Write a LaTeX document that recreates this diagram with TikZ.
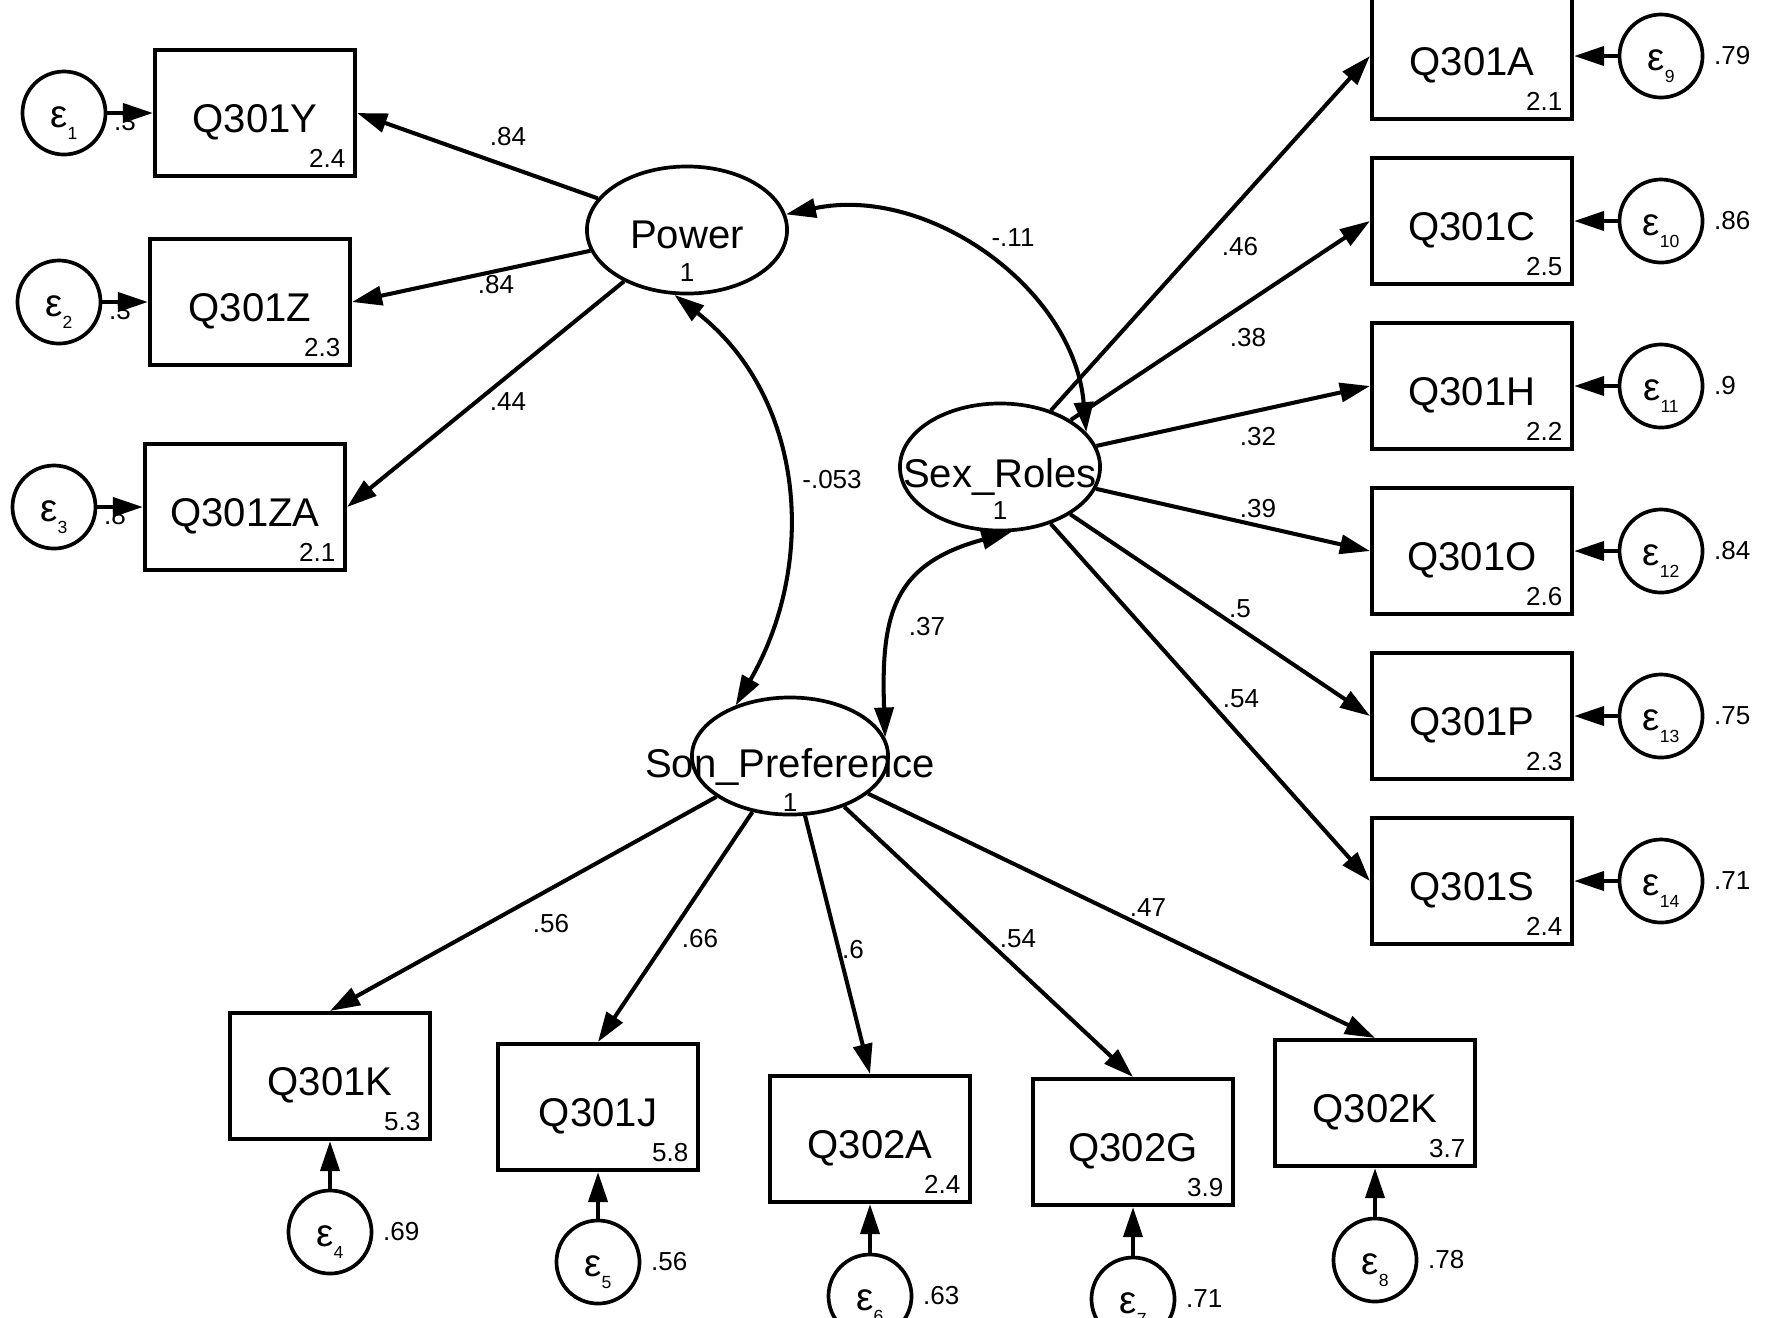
\documentclass[tikz,border=0pt]{standalone}
\usepackage{fontspec}
\setmainfont{Liberation Sans}
\usetikzlibrary{arrows.meta,shapes.geometric}
\newcommand{\errlab}[1]{ε\raisebox{-0.12cm}{\fontsize{5}{5}\selectfont #1}}

\tikzset{
	obs/.style={draw, line width=1.15pt, minimum width=2cm, minimum height=1.26cm, inner sep=0pt,
		text height=0.42cm, text depth=0.03cm, font=\fontsize{11.4}{12}\selectfont},
	lat/.style={draw, ellipse, line width=1.05pt, minimum width=2cm, minimum height=1.27cm, inner sep=0pt},
	latname/.style={inner sep=0pt, text height=8.2pt, text depth=0pt, font=\fontsize{11.4}{12}\selectfont},
	err/.style={draw, circle, line width=1.05pt, minimum size=0.83cm, inner sep=0pt,
		text height=0.41cm, text depth=0.12cm, font=\fontsize{11}{11}\selectfont},
	num/.style={inner sep=0pt, font=\fontsize{7.4}{8}\selectfont},
	load/.style={-{Triangle[length=0.3cm,width=0.19cm]}, line width=1.15pt},
	cov/.style={{Triangle[length=0.3cm,width=0.19cm]}-{Triangle[length=0.3cm,width=0.19cm]}, line width=1.15pt}
}

\begin{document}
\begin{tikzpicture}[x=0.01cm, y=0.01cm]
			%%%%% START %%%%%
			\useasboundingbox (0,0) rectangle (1767,-1317);
			\clip (0,0) rectangle (1767,-1317);
			
			% latent variables
			\node[lat] (power) at (687,-230) {};
			\node[latname] (power-n) at ([yshift=-0.04cm]power.center) {Power};
			\node[num] (power-v) at ([yshift=-0.43cm]power.center) {1};
			
			\node[lat] (sexroles) at (1000,-467) {};
			\node[latname] (sexroles-n) at ([yshift=-0.06cm]sexroles.center) {Sex\_Roles};
			\node[num] (sexroles-v) at ([yshift=-0.44cm]sexroles.center) {1};
			
			\node[lat, minimum width=1.96cm, minimum height=1.17cm] (sonpref) at (790,-756) {};
			\node[latname] (sonpref-n) at ([yshift=-0.07cm]sonpref.center) {Son\_Preference};
			\node[num] (sonpref-v) at ([yshift=-0.46cm]sonpref.center) {1};
			
			% covariances
			\draw[cov] (power.9) to[out=12, in=95] (sexroles.22);
			\node[num] (c1) at (1013,-238) {-.11};
			\draw[cov] (power.-101) to[out=-38, in=60, looseness=1.02] (sonpref.137);
			\node[num] (c2) at (832,-480) {-.053};
			\draw[cov] (sexroles.-80) to[out=195, in=92, looseness=1.3] (sonpref.11);
			\node[num] (c3) at (927,-627) {.37};
			
			% Power indicators
			\node[obs] (q301y) at (255,-113) {Q301Y};
			\node[num, anchor=south east] (q301y-v) at ([shift={(-11,10)}]q301y.south east) {2.4};
			\node[obs] (q301z) at (250,-302) {Q301Z};
			\node[num, anchor=south east] (q301z-v) at ([shift={(-11,10)}]q301z.south east) {2.3};
			\node[obs] (q301za) at (245,-507) {Q301ZA};
			\node[num, anchor=south east] (q301za-v) at ([shift={(-11,10)}]q301za.south east) {2.1};
			
			\draw[load] (power) -- (q301y.east);
			\node[num] (l1) at (508,-137) {.84};
			\draw[load] (power) -- (q301z.east);
			\node[num] (l2) at (496,-285) {.84};
			\draw[load] (power) -- (q301za.east);
			\node[num] (l3) at (508,-402) {.44};
			
			\node[err] (e1) at (64,-113) {\errlab{1}};
			\node[num, anchor=west] (e1-v) at ([shift={(6,-9)}]e1.east) {.3};
			\draw[load] (e1) -- (q301y);
			\node[err] (e2) at (59,-302) {\errlab{2}};
			\node[num, anchor=west] (e2-v) at ([shift={(6,-9)}]e2.east) {.3};
			\draw[load] (e2) -- (q301z);
			\node[err] (e3) at (54,-507) {\errlab{3}};
			\node[num, anchor=west] (e3-v) at ([shift={(6,-9)}]e3.east) {.8};
			\draw[load] (e3) -- (q301za);
			
			% Sex_Roles indicators
			\node[obs] (q301a) at (1472,-56) {Q301A};
			\node[num, anchor=south east] (q301a-v) at ([shift={(-11,10)}]q301a.south east) {2.1};
			\node[obs] (q301c) at (1472,-221) {Q301C};
			\node[num, anchor=south east] (q301c-v) at ([shift={(-11,10)}]q301c.south east) {2.5};
			\node[obs] (q301h) at (1472,-386) {Q301H};
			\node[num, anchor=south east] (q301h-v) at ([shift={(-11,10)}]q301h.south east) {2.2};
			\node[obs] (q301o) at (1472,-551) {Q301O};
			\node[num, anchor=south east] (q301o-v) at ([shift={(-11,10)}]q301o.south east) {2.6};
			\node[obs] (q301p) at (1472,-716) {Q301P};
			\node[num, anchor=south east] (q301p-v) at ([shift={(-11,10)}]q301p.south east) {2.3};
			\node[obs] (q301s) at (1472,-881) {Q301S};
			\node[num, anchor=south east] (q301s-v) at ([shift={(-11,10)}]q301s.south east) {2.4};
			
			\draw[load] (sexroles) -- (q301a.west);
			\node[num] (l4) at (1240,-247) {.46};
			\draw[load] (sexroles) -- (q301c.west);
			\node[num] (l5) at (1248,-338) {.38};
			\draw[load] (sexroles) -- (q301h.west);
			\node[num] (l6) at (1258,-437) {.32};
			\draw[load] (sexroles) -- (q301o.west);
			\node[num] (l7) at (1258,-509) {.39};
			\draw[load] (sexroles) -- (q301p.west);
			\node[num] (l8) at (1240,-609) {.5};
			\draw[load] (sexroles) -- (q301s.west);
			\node[num] (l9) at (1241,-699) {.54};
			
			\node[err] (e9) at (1661,-56) {\errlab{9}};
			\node[num, anchor=west] (e9-v) at ([xshift=0.09cm]e9.east) {.79};
			\draw[load] (e9) -- (q301a);
			\node[err] (e10) at (1661,-221) {\errlab{10}};
			\node[num, anchor=west] (e10-v) at ([xshift=0.09cm]e10.east) {.86};
			\draw[load] (e10) -- (q301c);
			\node[err] (e11) at (1661,-386) {\errlab{11}};
			\node[num, anchor=west] (e11-v) at ([xshift=0.09cm]e11.east) {.9};
			\draw[load] (e11) -- (q301h);
			\node[err] (e12) at (1661,-551) {\errlab{12}};
			\node[num, anchor=west] (e12-v) at ([xshift=0.09cm]e12.east) {.84};
			\draw[load] (e12) -- (q301o);
			\node[err] (e13) at (1661,-716) {\errlab{13}};
			\node[num, anchor=west] (e13-v) at ([xshift=0.09cm]e13.east) {.75};
			\draw[load] (e13) -- (q301p);
			\node[err] (e14) at (1661,-881) {\errlab{14}};
			\node[num, anchor=west] (e14-v) at ([xshift=0.09cm]e14.east) {.71};
			\draw[load] (e14) -- (q301s);
			
			% Son_Preference indicators
			\node[obs] (q301k) at (330,-1076) {Q301K};
			\node[num, anchor=south east] (q301k-v) at ([shift={(-11,10)}]q301k.south east) {5.3};
			\node[obs] (q301j) at (598,-1107) {Q301J};
			\node[num, anchor=south east] (q301j-v) at ([shift={(-11,10)}]q301j.south east) {5.8};
			\node[obs] (q302a) at (870,-1139) {Q302A};
			\node[num, anchor=south east] (q302a-v) at ([shift={(-11,10)}]q302a.south east) {2.4};
			\node[obs] (q302g) at (1133,-1142) {Q302G};
			\node[num, anchor=south east] (q302g-v) at ([shift={(-11,10)}]q302g.south east) {3.9};
			\node[obs] (q302k) at (1375,-1103) {Q302K};
			\node[num, anchor=south east] (q302k-v) at ([shift={(-11,10)}]q302k.south east) {3.7};
			
			\draw[load] (sonpref) -- (q301k.north);
			\node[num] (l10) at (551,-924) {.56};
			\draw[load] (sonpref) -- (q301j.north);
			\node[num] (l11) at (700,-939) {.66};
			\draw[load] (sonpref) -- (q302a.north);
			\node[num] (l12) at (853,-950) {.6};
			\draw[load] (sonpref) -- (q302g.north);
			\node[num] (l13) at (1018,-939) {.54};
			\draw[load] (sonpref) -- (q302k.north);
			\node[num] (l14) at (1148,-908) {.47};
			
			\node[err] (e4) at (330,-1232) {\errlab{4}};
			\node[num, anchor=west] (e4-v) at ([xshift=0.09cm]e4.east) {.69};
			\draw[load] (e4) -- (q301k);
			\node[err] (e5) at (598,-1262) {\errlab{5}};
			\node[num, anchor=west] (e5-v) at ([xshift=0.09cm]e5.east) {.56};
			\draw[load] (e5) -- (q301j);
			\node[err] (e6) at (870,-1296) {\errlab{6}};
			\node[num, anchor=west] (e6-v) at ([xshift=0.09cm]e6.east) {.63};
			\draw[load] (e6) -- (q302a);
			\node[err] (e7) at (1133,-1299) {\errlab{7}};
			\node[num, anchor=west] (e7-v) at ([xshift=0.09cm]e7.east) {.71};
			\draw[load] (e7) -- (q302g);
			\node[err] (e8) at (1375,-1260) {\errlab{8}};
			\node[num, anchor=west] (e8-v) at ([xshift=0.09cm]e8.east) {.78};
			\draw[load] (e8) -- (q302k);
			
			%%%%% END %%%%%
\end{tikzpicture}
\end{document}
